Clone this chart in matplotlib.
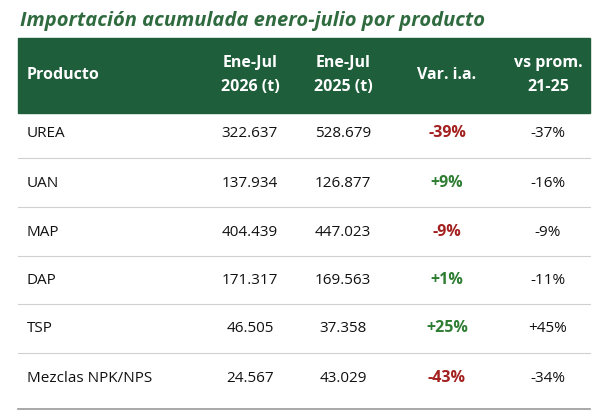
import matplotlib
matplotlib.use("Agg")
import matplotlib.pyplot as plt
from matplotlib.patches import Rectangle

productos = ["UREA", "UAN", "MAP", "DAP", "TSP", "Mezclas NPK/NPS"]
v2026 = ["322.637", "137.934", "404.439", "171.317", "46.505", "24.567"]
v2025 = ["528.679", "126.877", "447.023", "169.563", "37.358", "43.029"]
var_ia = [-39, 9, -9, 1, 25, -43]
vs_prom = [-37, -16, -9, -11, 45, -34]
title = "Importación acumulada enero-julio por producto"
headers = ["Producto", "Ene-Jul\n2026 (t)", "Ene-Jul\n2025 (t)", "Var. i.a.", "vs prom.\n21-25"]

W, H = 612, 419
fig = plt.figure(figsize=(W/100, H/100), dpi=100)
ax = fig.add_axes([0, 0, 1, 1])
ax.set_xlim(0, W); ax.set_ylim(H, 0); ax.axis("off")
plt.rcParams['font.family'] = ['Open Sans', 'DejaVu Sans']
green = "#1f5e3b"
ax.text(20, 21, title, fontsize=14.5, fontweight="bold", fontstyle="italic", color="#2f6b3f", va="center")
ax.add_patch(Rectangle((18, 38), 572, 75, color=green))
cx = [27, 250, 343, 447, 548]
for i, h in enumerate(headers):
    ax.text(cx[i], 75, h, color="white", fontsize=11.5, fontweight="bold",
            ha="left" if i == 0 else "center", va="center", linespacing=1.6)
ys = [133, 183, 232, 280, 328, 378]
for i, y in enumerate(ys):
    ax.text(cx[0], y, productos[i], fontsize=11, va="center", color="#111")
    ax.text(cx[1], y, v2026[i], fontsize=11, va="center", ha="center", color="#111")
    ax.text(cx[2], y, v2025[i], fontsize=11, va="center", ha="center", color="#111")
    v = var_ia[i]
    ax.text(cx[3], y, f"{v:+d}%", fontsize=11.5, va="center", ha="center", fontweight="bold",
            color="#2e7d32" if v > 0 else "#a3201f")
    p = vs_prom[i]
    ax.text(cx[4], y, f"{p:+d}%", fontsize=11, va="center", ha="center", color="#111")
for yl in [158, 207, 256, 304, 353]:
    ax.plot([18, 590], [yl, yl], color="#d0d0d0", lw=0.8)
ax.plot([18, 590], [409, 409], color="#999", lw=1.2)
fig.savefig("out.png", dpi=100)
